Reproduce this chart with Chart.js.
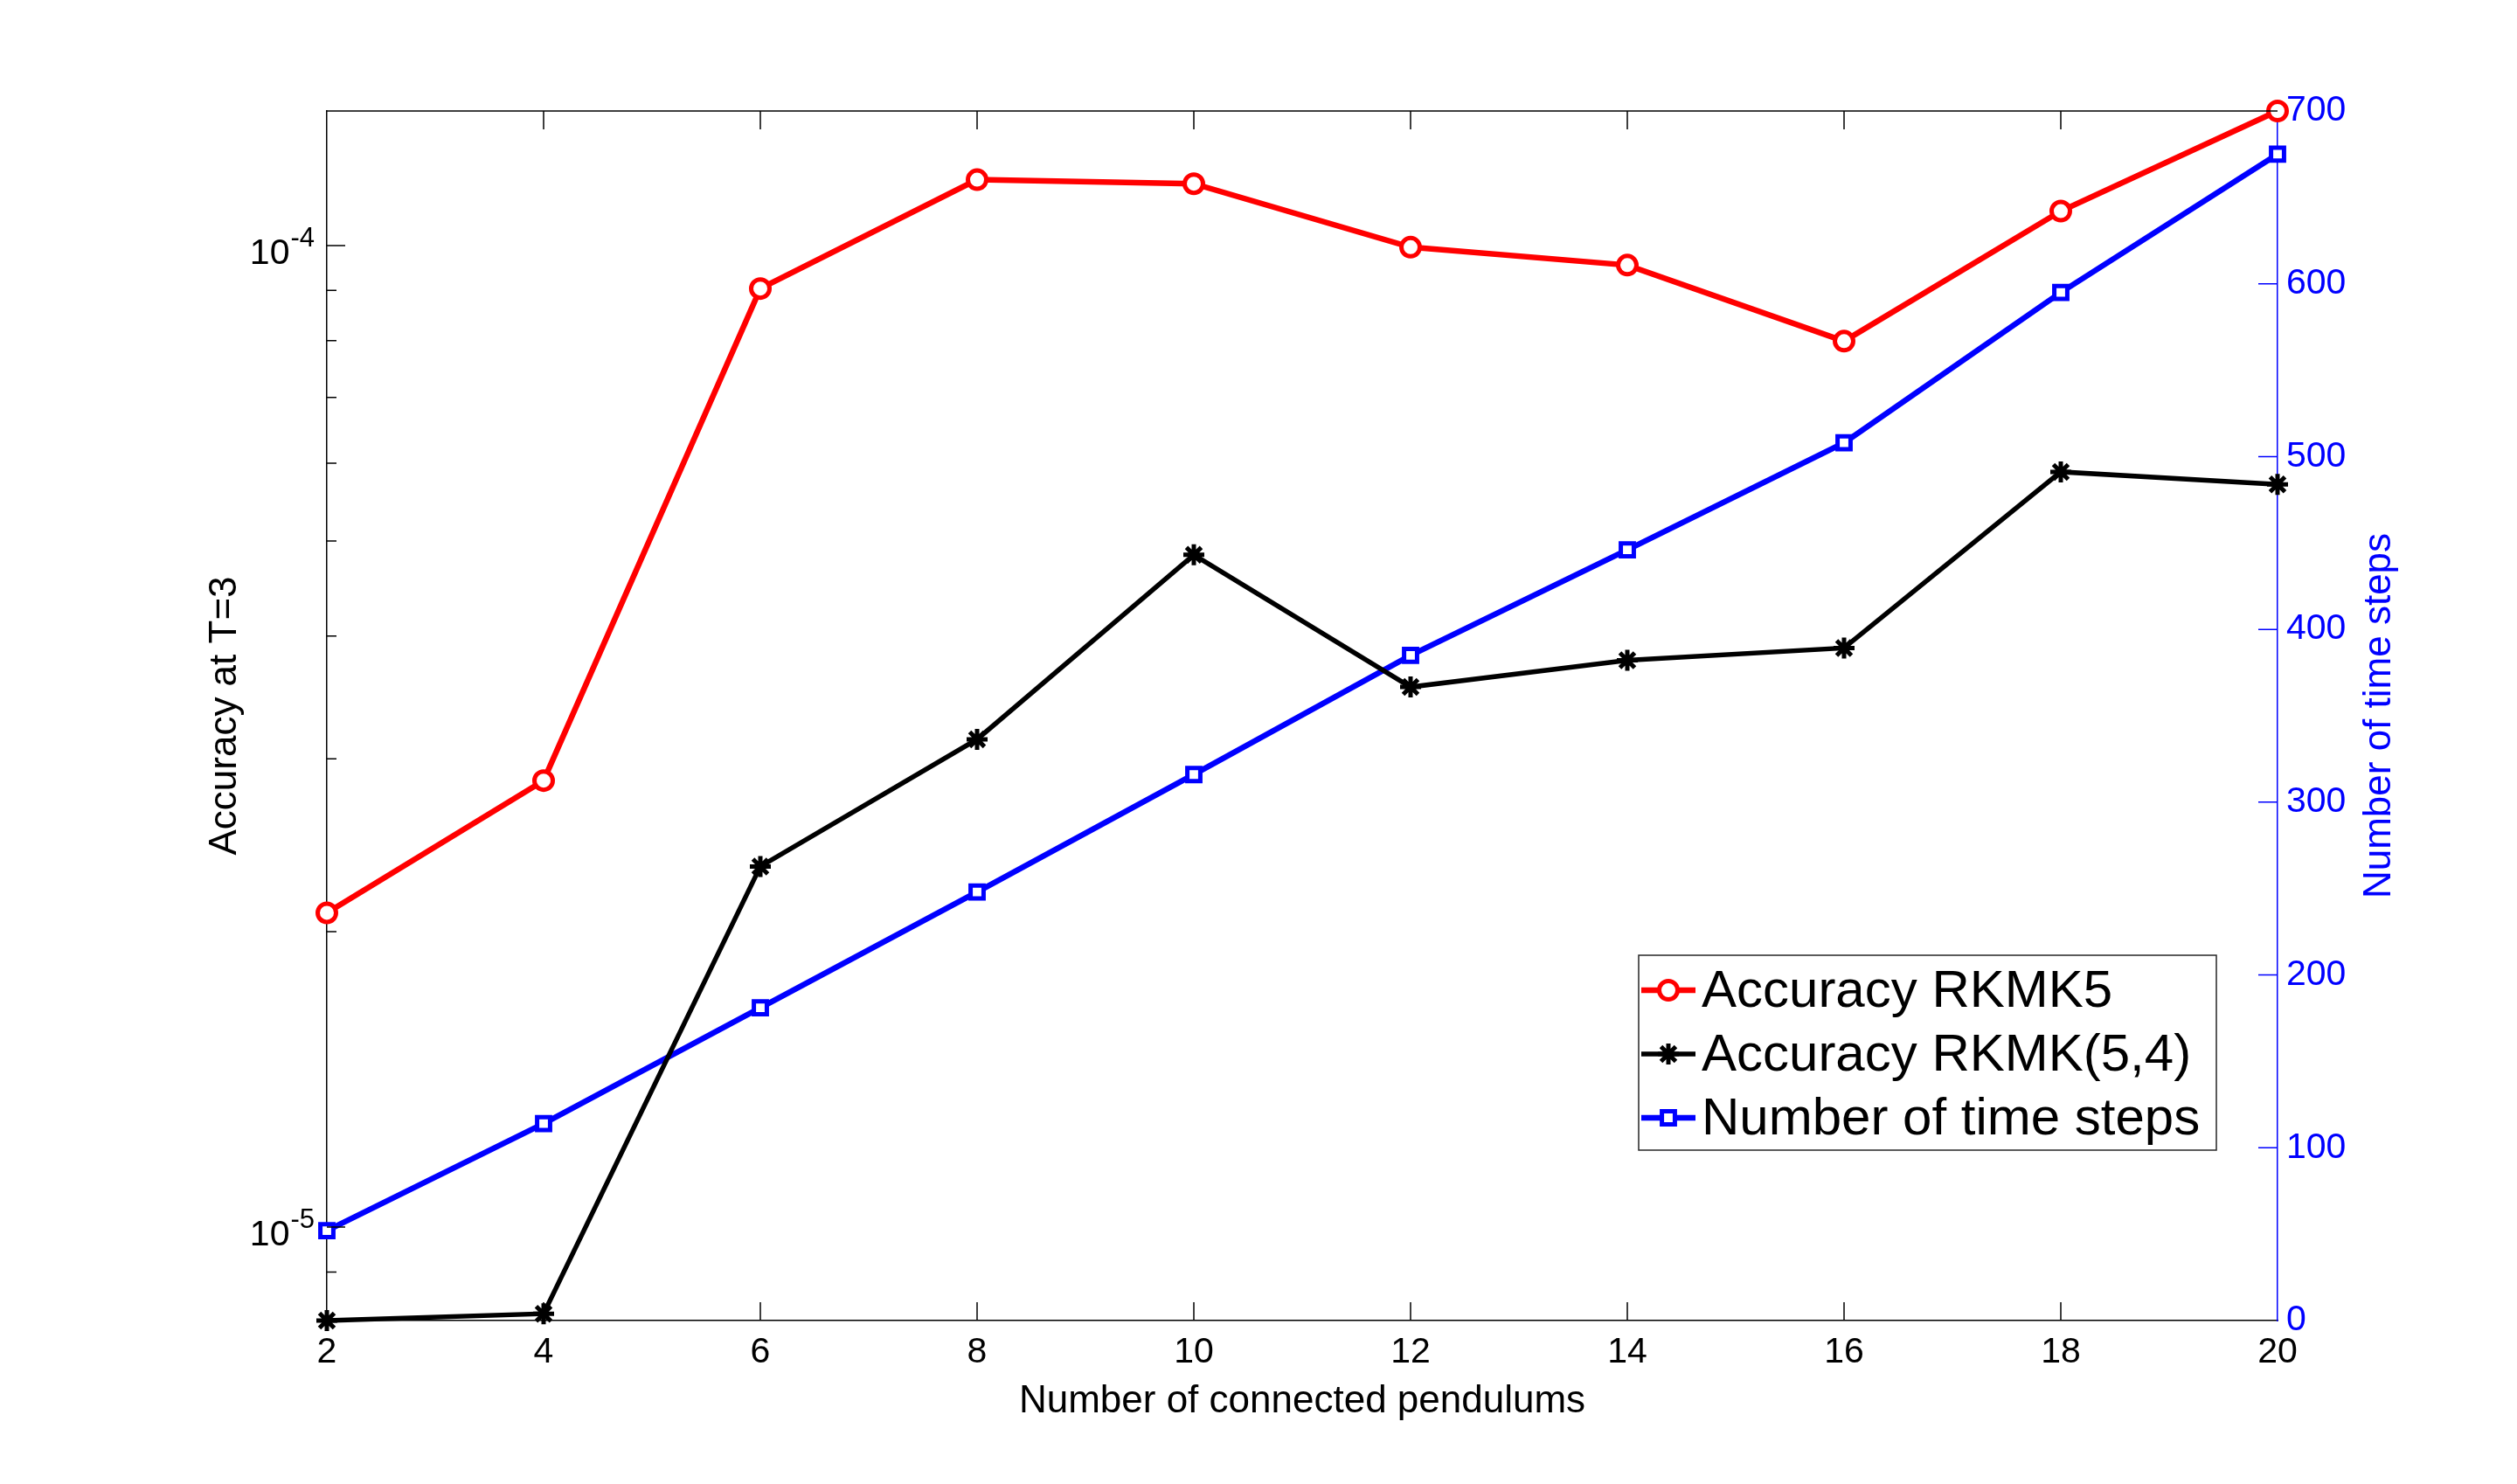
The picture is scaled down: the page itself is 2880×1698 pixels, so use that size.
<!DOCTYPE html>
<html>
<head>
<meta charset="utf-8">
<title>Accuracy and number of time steps vs. connected pendulums</title>
<script src="https://cdn.jsdelivr.net/npm/chart.js@4.4.1/dist/chart.umd.min.js"></script>
<style>
    html, body { margin: 0; padding: 0; background: #ffffff; }
    canvas { display: block; }
</style>
</head>
<body>
<canvas id="pendulumChart" width="2880" height="1698"></canvas>
<script>
// Number of connected pendulums (x axis)
const pendulums = [2, 4, 6, 8, 10, 12, 14, 16, 18, 20];

// Accuracy at T=3, left logarithmic axis
const accuracyRKMK5 = [2.09e-5, 2.85e-5, 9.04e-5, 1.167e-4, 1.156e-4, 9.96e-5, 9.55e-5, 7.99e-5, 1.084e-4, 1.371e-4];
const accuracyRKMK54 = [8.03e-6, 8.16e-6, 2.33e-5, 3.14e-5, 4.84e-5, 3.55e-5, 3.78e-5, 3.89e-5, 5.88e-5, 5.71e-5];

// Number of time steps, right linear axis
const timeSteps = [52, 114, 181, 248, 316, 385, 446, 508, 595, 675];

const seriesNames = ["Accuracy RKMK5", "Accuracy RKMK(5,4)", "Number of time steps"];

// Tick values and labels
const xTicks = [2, 4, 6, 8, 10, 12, 14, 16, 18, 20];
const leftMajorTicks = [1e-5, 1e-4];
const leftMajorLabels = [["10", "-5"], ["10", "-4"]];
const rightTicks = [0, 100, 200, 300, 400, 500, 600, 700];

const xTitle = "Number of connected pendulums";
const leftTitle = "Accuracy at T=3";
const rightTitle = "Number of time steps";

const FONT = "'Liberation Sans', Arial, Helvetica, sans-serif";
const RED = "#ff0000";
const BLUE = "#0000ff";
const BLACK = "#000000";

Chart.defaults.font.family = FONT;
Chart.defaults.color = BLACK;

function toPoints(values) {
    return pendulums.map((x, i) => ({ x: x, y: values[i] }));
}

function isDecade(v) {
    const l = Math.log10(v);
    return Math.abs(l - Math.round(l)) < 1e-9;
}

// Inward ticks, top frame line, log labels, titles and the boxed legend
const matlabFrame = {
    id: "matlabFrame",
    afterDraw(chart) {
        const ctx = chart.ctx;
        const area = chart.chartArea;
        const xs = chart.scales.x;
        const yl = chart.scales.yLeft;
        const yr = chart.scales.yRight;

        ctx.save();
        ctx.lineWidth = 1.5;

        // top frame line
        ctx.strokeStyle = BLACK;
        ctx.beginPath();
        ctx.moveTo(area.left, area.top);
        ctx.lineTo(area.right, area.top);
        ctx.stroke();

        // x ticks, bottom and top
        ctx.beginPath();
        xTicks.slice(1, -1).forEach(v => {
            const px = xs.getPixelForValue(v);
            ctx.moveTo(px, area.bottom);
            ctx.lineTo(px, area.bottom - 21);
            ctx.moveTo(px, area.top);
            ctx.lineTo(px, area.top + 21);
        });
        ctx.stroke();

        // left log ticks (major and minor)
        ctx.beginPath();
        yl.ticks.forEach(t => {
            const py = yl.getPixelForValue(t.value);
            const len = isDecade(t.value) ? 21 : 11;
            ctx.moveTo(area.left, py);
            ctx.lineTo(area.left + len, py);
        });
        ctx.stroke();

        // right ticks
        ctx.strokeStyle = BLUE;
        ctx.beginPath();
        rightTicks.slice(1, -1).forEach(v => {
            const py = yr.getPixelForValue(v);
            ctx.moveTo(area.right, py);
            ctx.lineTo(area.right - 22, py);
        });
        ctx.stroke();

        // left labels with superscript exponents
        ctx.fillStyle = BLACK;
        ctx.textAlign = "right";
        ctx.textBaseline = "alphabetic";
        leftMajorTicks.forEach((v, i) => {
            const py = yl.getPixelForValue(v);
            const rightEdge = area.left - 14;
            ctx.font = "31px " + FONT;
            const supW = ctx.measureText(leftMajorLabels[i][1]).width;
            ctx.fillText(leftMajorLabels[i][1], rightEdge, py + 1);
            ctx.font = "41px " + FONT;
            ctx.fillText(leftMajorLabels[i][0], rightEdge - supW - 1, py + 21);
        });

        // axis titles
        ctx.font = "44px " + FONT;
        ctx.textAlign = "center";
        ctx.fillText(xTitle, (area.left + area.right) / 2, area.bottom + 105);

        const midY = (area.top + area.bottom) / 2;
        ctx.save();
        ctx.translate(270, midY);
        ctx.rotate(-Math.PI / 2);
        ctx.fillText(leftTitle, 0, 0);
        ctx.restore();

        ctx.save();
        ctx.fillStyle = BLUE;
        ctx.translate(area.right + 129, midY);
        ctx.rotate(-Math.PI / 2);
        ctx.fillText(rightTitle, 0, 0);
        ctx.restore();

        // legend box
        const boxR = area.right - 70;
        const boxB = area.bottom - 195;
        const boxW = 661;
        const boxH = 223;
        const boxL = boxR - boxW;
        const boxT = boxB - boxH;
        ctx.fillStyle = "#ffffff";
        ctx.fillRect(boxL, boxT, boxW, boxH);
        ctx.strokeStyle = "#262626";
        ctx.lineWidth = 1.5;
        ctx.strokeRect(boxL, boxT, boxW, boxH);

        chart.data.datasets.forEach((ds, i) => {
            const rowY = boxT + 40 + i * 73;
            ctx.strokeStyle = ds.borderColor;
            ctx.lineWidth = ds.borderWidth;
            ctx.beginPath();
            ctx.moveTo(boxL + 3, rowY);
            ctx.lineTo(boxL + 65, rowY);
            ctx.stroke();

            ctx.fillStyle = ds.pointBackgroundColor;
            ctx.strokeStyle = ds.borderColor;
            ctx.lineWidth = ds.pointBorderWidth;
            if (Chart.helpers && Chart.helpers.drawPoint) {
                Chart.helpers.drawPoint(ctx, {
                    pointStyle: ds.pointStyle,
                    radius: ds.pointRadius,
                    rotation: 0,
                    borderWidth: ds.pointBorderWidth
                }, boxL + 34, rowY);
            }

            ctx.fillStyle = BLACK;
            ctx.font = "60px " + FONT;
            ctx.textAlign = "left";
            ctx.textBaseline = "middle";
            ctx.fillText(ds.label, boxL + 72, rowY + 2);
        });

        ctx.restore();
    }
};

const canvas = document.getElementById("pendulumChart");
const ctx = canvas.getContext("2d");

new Chart(ctx, {
    type: "line",
    data: {
        datasets: [
            {
                label: seriesNames[0],
                data: toPoints(accuracyRKMK5),
                yAxisID: "yLeft",
                borderColor: RED,
                borderWidth: 6.5,
                pointStyle: "circle",
                pointRadius: 10.5,
                pointBorderWidth: 5,
                pointBackgroundColor: "#ffffff",
                pointBorderColor: RED,
                clip: false
            },
            {
                label: seriesNames[1],
                data: toPoints(accuracyRKMK54),
                yAxisID: "yLeft",
                borderColor: BLACK,
                borderWidth: 5.5,
                pointStyle: "star",
                pointRadius: 12,
                pointBorderWidth: 5,
                pointBackgroundColor: BLACK,
                pointBorderColor: BLACK,
                clip: false
            },
            {
                label: seriesNames[2],
                data: toPoints(timeSteps),
                yAxisID: "yRight",
                borderColor: BLUE,
                borderWidth: 6.5,
                pointStyle: "rect",
                pointRadius: 10.5,
                pointBorderWidth: 5,
                pointBackgroundColor: "#ffffff",
                pointBorderColor: BLUE,
                clip: false
            }
        ]
    },
    options: {
        responsive: false,
        animation: false,
        devicePixelRatio: 1,
        layout: { padding: { top: 127, left: 0, right: 0, bottom: 0 } },
        elements: { line: { tension: 0, fill: false } },
        plugins: {
            legend: { display: false },
            tooltip: { enabled: false },
            title: { display: false }
        },
        events: [],
        scales: {
            x: {
                type: "linear",
                position: "bottom",
                min: pendulums[0],
                max: pendulums[pendulums.length - 1],
                afterBuildTicks: scale => {
                    scale.ticks = xTicks.map(v => ({ value: v }));
                },
                afterFit: scale => { scale.height = 187; },
                grid: { display: false, drawTicks: false },
                border: { display: true, color: BLACK, width: 1.5 },
                ticks: {
                    font: { size: 41 },
                    color: BLACK,
                    padding: 12,
                    maxRotation: 0,
                    autoSkip: false
                }
            },
            yLeft: {
                type: "logarithmic",
                position: "left",
                bounds: "data",
                min: Math.min(...accuracyRKMK54),
                max: Math.max(...accuracyRKMK5),
                afterBuildTicks: scale => {
                    const ticks = [];
                    const lo = Math.floor(Math.log10(scale.min));
                    const hi = Math.ceil(Math.log10(scale.max));
                    for (let e = lo; e <= hi; e++) {
                        for (let k = 1; k <= 9; k++) {
                            const v = k * Math.pow(10, e);
                            if (v >= scale.min && v <= scale.max) ticks.push({ value: v });
                        }
                    }
                    scale.ticks = ticks;
                },
                afterFit: scale => { scale.width = 374; },
                grid: { display: false, drawTicks: false },
                border: { display: true, color: BLACK, width: 1.5 },
                ticks: { display: false }
            },
            yRight: {
                type: "linear",
                position: "right",
                min: rightTicks[0],
                max: rightTicks[rightTicks.length - 1],
                afterBuildTicks: scale => {
                    scale.ticks = rightTicks.map(v => ({ value: v }));
                },
                afterFit: scale => { scale.width = 274; },
                grid: { display: false, drawTicks: false },
                border: { display: true, color: BLUE, width: 1.5 },
                ticks: {
                    font: { size: 41 },
                    color: BLUE,
                    padding: 10
                }
            }
        }
    },
    plugins: [matlabFrame]
});
</script>
</body>
</html>
